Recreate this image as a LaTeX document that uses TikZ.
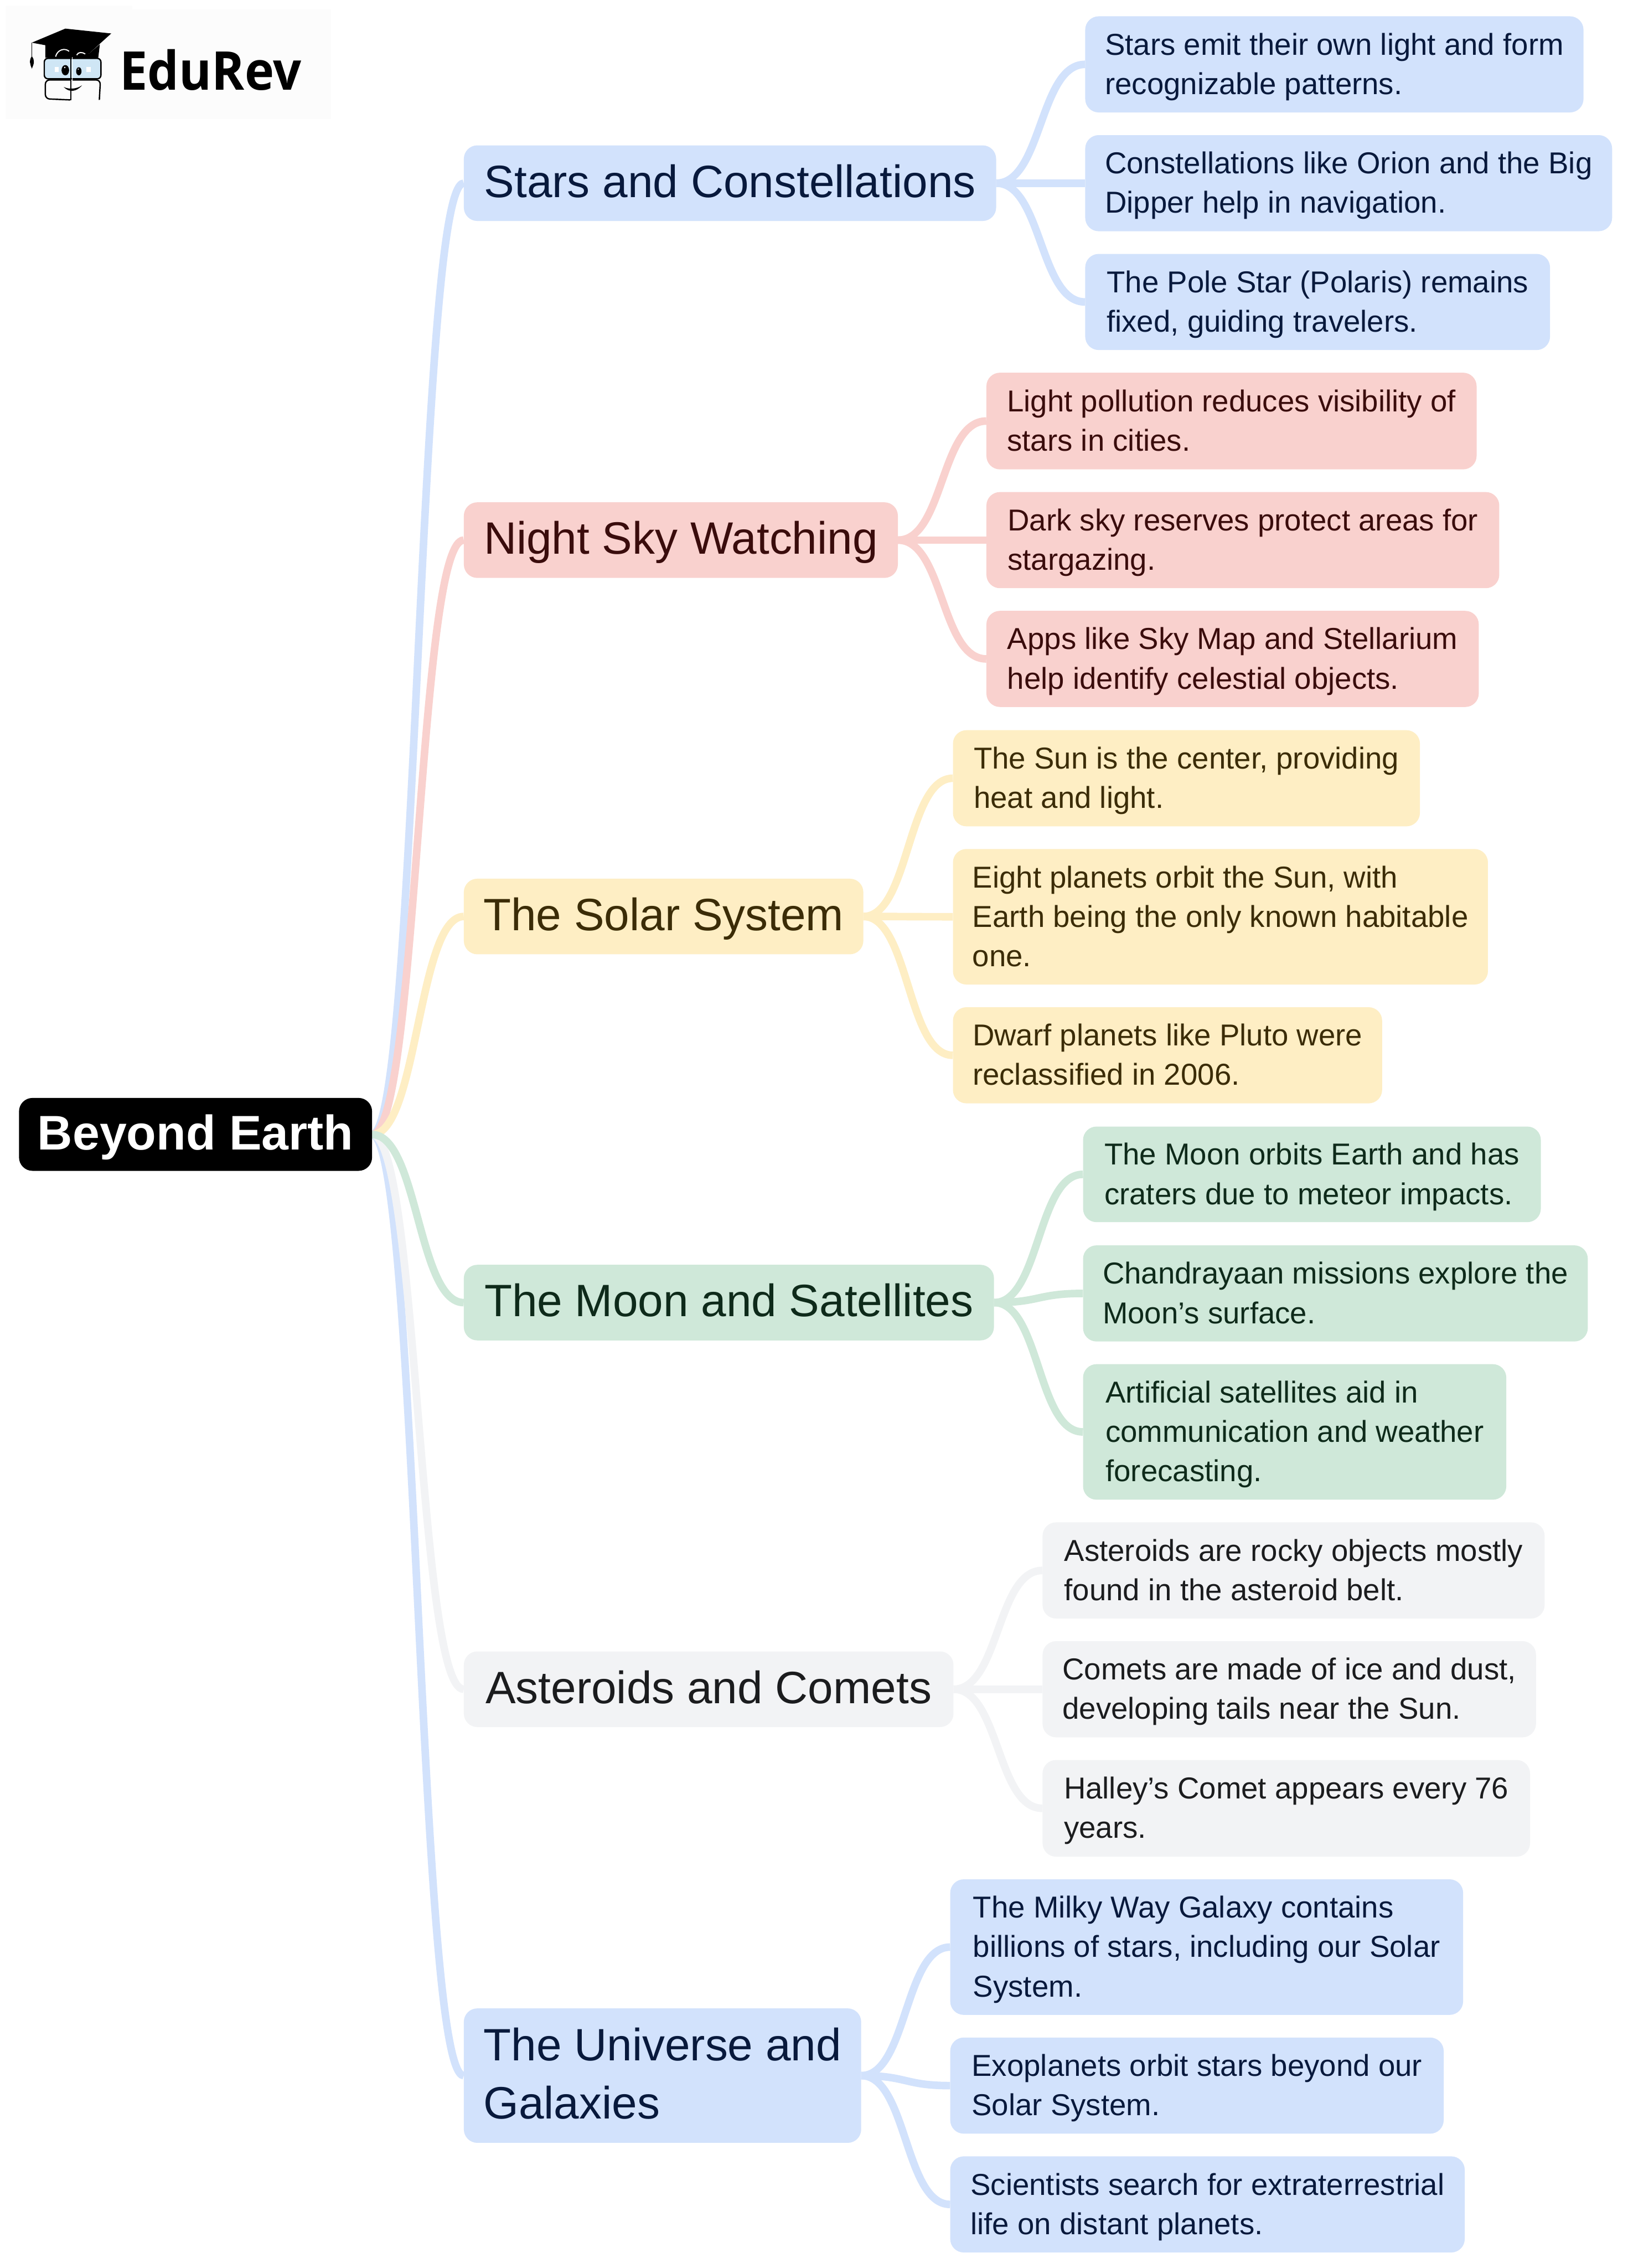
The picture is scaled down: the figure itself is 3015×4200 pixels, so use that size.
\documentclass[tikz,border=0pt]{standalone}
\usepackage{fontspec}
\setmainfont{Liberation Sans}
\newfontfamily\logofont[FakeStretch=0.93]{Open Sans}
\pgfdeclarelayer{back}
\pgfsetlayers{back,main}
\definecolor{cblue}{HTML}{D2E2FC}
\definecolor{cred}{HTML}{F9D1CE}
\definecolor{cyel}{HTML}{FEEEC4}
\definecolor{cgrn}{HTML}{CFE8D9}
\definecolor{cgry}{HTML}{F2F3F5}
\definecolor{tblue}{HTML}{08193C}
\definecolor{tred}{HTML}{3A0C0C}
\definecolor{tyel}{HTML}{3B2C07}
\definecolor{tgrn}{HTML}{0E2A1A}
\definecolor{tgry}{HTML}{1B1C1E}
\tikzset{
 x=1pt,y=-1pt,
 rootbox/.style={draw=none,fill=black,text=white,rounded corners=25pt,inner sep=0pt,anchor=north west,font=\fontsize{90}{100}\selectfont\bfseries},
 topicbox/.style={draw=none,rounded corners=25pt,inner sep=0pt,anchor=north west,align=left,font=\fontsize{84}{108}\selectfont},
 leafbox/.style={draw=none,rounded corners=25pt,inner sep=0pt,anchor=north west,align=left,font=\fontsize{56}{73}\selectfont},
 blue/.style={fill=cblue,text=tblue},
 red/.style={fill=cred,text=tred},
 yel/.style={fill=cyel,text=tyel},
 grn/.style={fill=cgrn,text=tgrn},
 gry/.style={fill=cgry,text=tgry},
 link/.style={line width=14pt,line cap=butt},
}
\newcommand{\lfa}{\rule{0pt}{55.5pt}}
\newcommand{\lfb}{\rule[-17.5pt]{0pt}{17.5pt}}
\newcommand{\tpa}{\rule{0pt}{80pt}}
\newcommand{\tpb}{\rule[-28pt]{0pt}{28pt}}
\newcommand{\leafnode}[7]{\node[leafbox,#1,minimum width=#5-#3,minimum height=#6-#4] (#2) at (#3,#4) {\lfa #7\lfb};}
\newcommand{\topicnode}[7]{\node[topicbox,#1,minimum width=#5-#3,minimum height=#6-#4] (#2) at (#3,#4) {\tpa #7\tpb};}
\begin{document}
\begin{tikzpicture}
\useasboundingbox (0,0) rectangle (3015,4200);
\begin{pgfonlayer}{back}
\fill[white] (0,0) rectangle (3015,4200);
\end{pgfonlayer}
% logo
\fill[fill=black!1] (10,10) rectangle (245,220);
\fill[fill=black!1] (245,17) rectangle (613,220);
\fill[black] (59,79) -- (121,53) -- (206,62) -- (165,99) -- cycle;
\fill[black] (84,83) -- (84,107) -- (182,107) -- (185,82) -- (165,99) -- (120,86) -- cycle;
\draw[line width=1.6pt] (59,79) -- (59,108);
\fill[black] (59,104) .. controls (53,112) and (56,120) .. (59,127) .. controls (63,118) and (65,112) .. (59,104) -- cycle;
\draw[white,line width=2pt] (103,105) .. controls (106,92) and (120,88) .. (128,95);
\draw[white,line width=2pt] (142,102) .. controls (145,96) and (152,96) .. (158,100);
\draw[line width=2.5pt,fill={rgb,255:red,207;green,230;blue,245},rounded corners=7pt] (82,108) rectangle (187,146);
\draw[line width=2.5pt,rounded corners=8pt] (132,148) -- (84,148) -- (84,183) -- (130,185);
\draw[line width=2.5pt,rounded corners=8pt] (134,148) -- (186,148) -- (184,185);
\draw[line width=2.5pt] (131,104) -- (131,186);
\draw[white,line width=1.5pt] (134,106) -- (134,186);
\fill[black] (121,130) ellipse (7pt and 9.5pt);
\fill[black] (146,132) ellipse (5pt and 7.5pt);
\fill[white] (120,125) circle (1.5pt);
\fill[white] (145,128) circle (1.2pt);
\fill[white] (101,124) rectangle (109,133);
\fill[white] (160,124) rectangle (168,133);
\fill[black] (118,161) .. controls (128,172) and (142,170) .. (152,158) .. controls (142,165) and (128,166) .. (118,161) -- cycle;
\node[anchor=base west,inner sep=0pt,text=black,font=\logofont\fontsize{99}{99}\selectfont\bfseries] (logo) at (222,167) {EduRev};
% nodes
\node[rootbox,minimum width=654,minimum height=135] (root) at (35,2033) {\rule{0pt}{78.5pt}Beyond Earth\rule[-21.5pt]{0pt}{21.5pt}};
\topicnode{blue}{t1}{859}{269}{1845}{409}{Stars and Constellations}
\topicnode{red}{t2}{859}{930}{1663}{1070}{Night Sky Watching}
\topicnode{yel}{t3}{859}{1627}{1599}{1767}{The Solar System}
\topicnode{grn}{t4}{859}{2342}{1841}{2482}{The Moon and Satellites}
\topicnode{gry}{t5}{859}{3058}{1766}{3198}{Asteroids and Comets}
\topicnode{blue}{t6}{859}{3719}{1595}{3968}{The Universe and\\Galaxies}
\leafnode{blue}{a1}{2010}{30}{2933}{208}{Stars emit their own light and form\\recognizable patterns.}
\leafnode{blue}{a2}{2010}{250}{2986}{428}{Constellations like Orion and the Big\\Dipper help in navigation.}
\leafnode{blue}{a3}{2010}{470}{2871}{648}{The Pole Star (Polaris) remains\\fixed, guiding travelers.}
\leafnode{red}{b1}{1827}{690}{2735}{869}{Light pollution reduces visibility of\\stars in cities.}
\leafnode{red}{b2}{1827}{911}{2777}{1089}{Dark sky reserves protect areas for\\stargazing.}
\leafnode{red}{b3}{1827}{1131}{2739}{1309}{Apps like Sky Map and Stellarium\\help identify celestial objects.}
\leafnode{yel}{c1}{1765}{1352}{2630}{1530}{The Sun is the center, providing\\heat and light.}
\leafnode{yel}{c2}{1765}{1572}{2756}{1823}{Eight planets orbit the Sun, with\\Earth being the only known habitable\\one.}
\leafnode{yel}{c3}{1765}{1865}{2560}{2043}{Dwarf planets like Pluto were\\reclassified in 2006.}
\leafnode{grn}{d1}{2006}{2086}{2854}{2263}{The Moon orbits Earth and has\\craters due to meteor impacts.}
\leafnode{grn}{d2}{2006}{2306}{2941}{2484}{Chandrayaan missions explore the\\Moon’s surface.}
\leafnode{grn}{d3}{2006}{2526}{2790}{2777}{Artificial satellites aid in\\communication and weather\\forecasting.}
\leafnode{gry}{e1}{1931}{2819}{2861}{2997}{Asteroids are rocky objects mostly\\found in the asteroid belt.}
\leafnode{gry}{e2}{1931}{3039}{2845}{3217}{Comets are made of ice and dust,\\developing tails near the Sun.}
\leafnode{gry}{e3}{1931}{3259}{2834}{3438}{Halley’s Comet appears every 76\\years.}
\leafnode{blue}{f1}{1760}{3480}{2710}{3731}{The Milky Way Galaxy contains\\billions of stars, including our Solar\\System.}
\leafnode{blue}{f2}{1760}{3773}{2674}{3951}{Exoplanets orbit stars beyond our\\Solar System.}
\leafnode{blue}{f3}{1760}{3993}{2713}{4171}{Scientists search for extraterrestrial\\life on distant planets.}
% connectors
\begin{pgfonlayer}{back}
\coordinate (r) at (689,2101);
\foreach \n/\c in {t1/cblue,t2/cred,t3/cyel,t6/cblue,t5/cgry,t4/cgrn}
  \draw[link,\c] (r) .. controls +(85,0) and +(-85,0) .. (\n.west);
\foreach \s/\n/\c in {t1/a1/cblue,t1/a2/cblue,t1/a3/cblue,t2/b1/cred,t2/b2/cred,t2/b3/cred,t3/c1/cyel,t3/c2/cyel,t3/c3/cyel,t4/d1/cgrn,t4/d2/cgrn,t4/d3/cgrn,t5/e1/cgry,t5/e2/cgry,t5/e3/cgry,t6/f1/cblue,t6/f2/cblue,t6/f3/cblue}
  \draw[link,\c] (\s.east) .. controls +(85,0) and +(-85,0) .. (\n.west);
\end{pgfonlayer}
\end{tikzpicture}
\end{document}
